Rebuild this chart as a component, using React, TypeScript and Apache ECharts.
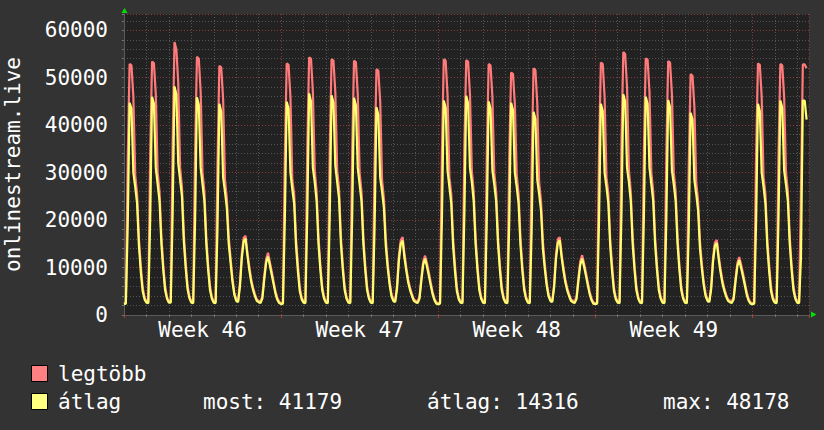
import React, { useEffect, useRef } from "react";
import * as echarts from "echarts";

// Hours between samples; each day row holds 12 two-hourly values (00h..22h)
const STEP_HOURS = 2;
const X_MAX_HOURS = 732.6;
const Y_MAX = 63430;

const weekLabels = ["Week 46", "Week 47", "Week 48", "Week 49"];
const yTickLabels = [0, 10000, 20000, 30000, 40000, 50000, 60000];

// "átlag" (average) per day, Monday first
const avgWeek46 = [
  [2300, 2400, 19000, 44700, 43500, 30000, 27000, 23500, 14500, 9000, 5000, 3300],
  [2600, 2500, 20000, 46000, 44500, 31000, 27500, 24000, 15000, 9500, 5200, 3400],
  [2600, 2600, 21000, 48178, 46500, 32000, 28500, 25000, 15500, 9800, 5400, 3500],
  [2600, 2500, 19500, 45900, 44300, 31000, 27500, 24000, 15000, 9500, 5200, 3400],
  [2600, 2500, 18500, 44500, 42800, 29000, 26000, 22500, 15000, 11000, 7000, 4300],
  [3000, 2700, 6000, 12000, 15500, 16100, 12500, 9500, 7000, 5300, 4000, 3000],
  [2700, 2500, 3500, 7500, 11000, 12300, 10500, 8500, 6500, 4500, 3200, 2500],
];
const avgWeek47 = [
  [2300, 2400, 20000, 44950, 43500, 30000, 26500, 23500, 14500, 9200, 5000, 3300],
  [2600, 2500, 21000, 46700, 45000, 31000, 28000, 24000, 15000, 9500, 5200, 3400],
  [2600, 2500, 20500, 46300, 44800, 31500, 28000, 24500, 15000, 9500, 5200, 3400],
  [2600, 2500, 20000, 45800, 44200, 31000, 27500, 24000, 15000, 9500, 5200, 3400],
  [2600, 2500, 18500, 43800, 42200, 29000, 26000, 22500, 14500, 10000, 6500, 4000],
  [3000, 2700, 5500, 11500, 15000, 15700, 12000, 9200, 6800, 5200, 4000, 3000],
  [2700, 2500, 3400, 7200, 10600, 11900, 10200, 8300, 6300, 4400, 3100, 2400],
];
const avgWeek48 = [
  [2300, 2400, 20000, 45200, 43700, 30500, 27000, 23500, 14500, 9200, 5000, 3300],
  [2600, 2500, 21000, 46200, 44600, 31000, 28000, 24000, 15000, 9500, 5200, 3400],
  [2600, 2500, 20000, 45000, 43500, 30500, 27500, 24000, 15000, 9500, 5200, 3400],
  [2600, 2500, 19500, 44700, 43200, 30000, 27000, 23500, 14800, 9400, 5200, 3400],
  [2600, 2500, 18000, 42800, 41300, 28500, 25500, 22000, 14000, 9800, 6300, 4000],
  [3000, 2700, 5800, 11800, 15200, 15800, 12200, 9300, 6900, 5200, 4000, 3000],
  [2700, 2500, 3400, 7200, 10600, 11900, 10200, 8300, 6300, 4400, 3100, 2400],
];
const avgWeek49 = [
  [2300, 2400, 19500, 44500, 43000, 30000, 27000, 23500, 14500, 9200, 5000, 3300],
  [2600, 2500, 21000, 46500, 45000, 31000, 28000, 24000, 15000, 9500, 5200, 3400],
  [2600, 2500, 20500, 46000, 44500, 31000, 27500, 24000, 15000, 9500, 5200, 3400],
  [2600, 2500, 20000, 45300, 43800, 30500, 27500, 24000, 15000, 9500, 5200, 3400],
  [2600, 2500, 18000, 42600, 41200, 28500, 25500, 22000, 14000, 9800, 6300, 4000],
  [3000, 2700, 5500, 11300, 14600, 15200, 11800, 9000, 6700, 5100, 3900, 3000],
  [2700, 2500, 3300, 7000, 10300, 11600, 9900, 8100, 6200, 4300, 3000, 2400],
];
const avgWeek50 = [
  [2300, 2400, 19500, 44500, 43000, 30000, 27000, 23500, 14500, 9200, 5000, 3300],
  [2600, 2500, 20500, 45200, 43700, 30500, 27500, 24000, 15000, 9500, 5200, 3400],
  [2600, 2500, 12000, 45200, 45200, 41179],
];

// "legtöbb" (maximum) per day, Monday first
const maxWeek46 = [
  [2500, 2700, 33000, 52900, 52600, 46000, 29500, 25500, 16000, 10200, 5800, 3700],
  [2900, 2800, 34000, 53400, 53100, 46500, 30000, 26000, 16500, 10500, 6000, 3800],
  [2900, 2900, 36000, 57500, 56000, 49000, 31000, 27000, 17000, 11000, 6200, 3900],
  [2900, 2800, 34000, 54400, 54000, 47000, 30000, 26000, 16500, 10500, 6000, 3800],
  [2900, 2800, 32000, 52500, 52200, 45500, 28500, 24500, 16500, 12000, 7700, 4700],
  [3300, 3000, 6800, 13000, 16300, 16700, 13200, 10200, 7600, 5800, 4400, 3300],
  [3000, 2800, 4000, 8200, 11800, 13100, 11200, 9200, 7000, 5000, 3600, 2800],
];
const maxWeek47 = [
  [2500, 2600, 33000, 53000, 52700, 46000, 28500, 25500, 16000, 10500, 5800, 3700],
  [2900, 2800, 35000, 54300, 54000, 47000, 30500, 26000, 16500, 10500, 6000, 3800],
  [2900, 2800, 34500, 53900, 53600, 47000, 30500, 26500, 16500, 10500, 6000, 3800],
  [2900, 2800, 34000, 53600, 53300, 46500, 30000, 26000, 16500, 10500, 6000, 3800],
  [2900, 2800, 32000, 51800, 51500, 45000, 28500, 24500, 16000, 11000, 7200, 4500],
  [3300, 3000, 6300, 12500, 15800, 16400, 12800, 9900, 7400, 5700, 4400, 3300],
  [3000, 2800, 3900, 7900, 11300, 12500, 10900, 9000, 6900, 4900, 3500, 2700],
];
const maxWeek48 = [
  [2500, 2600, 34000, 53900, 53600, 46500, 29000, 25500, 16000, 10500, 5800, 3700],
  [2900, 2800, 35000, 53700, 53400, 46500, 30500, 26000, 16500, 10500, 6000, 3800],
  [2900, 2800, 34000, 52900, 52600, 46000, 30000, 26000, 16500, 10500, 6000, 3800],
  [2900, 2800, 33000, 51100, 50800, 44500, 29500, 25500, 16300, 10400, 6000, 3800],
  [2900, 2800, 32000, 52000, 51600, 44500, 28000, 24000, 15500, 10800, 7000, 4500],
  [3300, 3000, 6500, 12800, 16000, 16400, 12900, 10000, 7500, 5700, 4400, 3300],
  [3000, 2800, 3900, 7900, 11400, 12600, 10900, 9000, 6900, 4900, 3500, 2700],
];
const maxWeek49 = [
  [2500, 2600, 33500, 53200, 52900, 46000, 29000, 25500, 16000, 10500, 5800, 3700],
  [2900, 2800, 36000, 55400, 55000, 48000, 30500, 26000, 16500, 10500, 6000, 3800],
  [2900, 2800, 34500, 54100, 53800, 47000, 30000, 26000, 16500, 10500, 6000, 3800],
  [2900, 2800, 34000, 53500, 53200, 46500, 30000, 26000, 16500, 10500, 6000, 3800],
  [2900, 2800, 31500, 50800, 50400, 44000, 28000, 24000, 15500, 10800, 7000, 4500],
  [3300, 3000, 6200, 12200, 15300, 15800, 12500, 9700, 7300, 5600, 4300, 3300],
  [3000, 2800, 3800, 7700, 11000, 12200, 10600, 8800, 6800, 4800, 3400, 2700],
];
const maxWeek50 = [
  [2500, 2600, 33500, 53000, 52700, 46000, 29000, 25500, 16000, 10500, 5800, 3700],
  [2900, 2800, 34000, 52900, 52600, 46000, 30000, 26000, 16500, 10500, 6000, 3800],
  [2900, 2800, 26000, 52800, 52800, 52000],
];

// Legend statistics (for the "átlag" series)
const statLabels = ["most:", "átlag:", "max:"];
const statValues = [41179, 14316, 48178];
const seriesNames = ["legtöbb", "átlag"];

const FONT = "DejaVu Sans Mono";
const TEXT = "#ffffff";
const RED_LINE = "#ff7a7a";
const YEL_LINE = "#ffff6e";

function toPoints(weeks: number[][][]): [number, number][] {
  const flat = weeks.flat(2);
  return flat.map((v, i) => [i * STEP_HOURS, v]);
}

export default function App() {
  const ref = useRef<HTMLDivElement>(null);
  useEffect(() => {
    if (!ref.current) return;
    const chart = echarts.init(ref.current, null, { renderer: "svg" });
    const avgData = toPoints([avgWeek46, avgWeek47, avgWeek48, avgWeek49, avgWeek50]);
    const maxData = toPoints([maxWeek46, maxWeek47, maxWeek48, maxWeek49, maxWeek50]);
    const grid = { left: 124, top: 14, width: 685, height: 301, show: true, backgroundColor: "#222222", borderWidth: 0 };
    const minorGrid = { color: "#545454", type: [1, 2] as number[], width: 1 };
    const majorGrid = { color: "#8a3a3a", type: [1, 2] as number[], width: 1 };
    const option: any = {
      animation: false,
      backgroundColor: "#333333",
      grid,
      xAxis: [
        {
          type: "value", min: 0, max: X_MAX_HOURS, interval: 24, position: "bottom",
          axisLine: { show: true, lineStyle: { color: "#5a5a5a", width: 1 } },
          axisTick: { show: true, length: 2, lineStyle: { color: "#777" } },
          axisLabel: { show: false },
          splitLine: { show: true, lineStyle: minorGrid },
        },
        {
          type: "value", min: 0, max: X_MAX_HOURS, interval: 168, position: "bottom",
          axisLine: { show: false },
          axisTick: { show: true, length: 3, lineStyle: { color: "#b03a3a" } },
          axisLabel: { show: false },
          splitLine: { show: true, lineStyle: majorGrid },
        },
        {
          type: "value", min: 0, max: X_MAX_HOURS, interval: 84, position: "bottom",
          axisLine: { show: false },
          axisTick: { show: false },
          splitLine: { show: false },
          axisLabel: {
            show: true, color: TEXT, fontFamily: FONT, fontSize: 21, margin: 4,
            showMinLabel: true, showMaxLabel: true,
            formatter: (v: number) => {
              const k = (v - 84) / 168;
              return Number.isInteger(k) && k >= 0 && k < weekLabels.length ? weekLabels[k] : "";
            },
          },
        },
      ],
      yAxis: [
        {
          type: "value", min: 0, max: Y_MAX, interval: 2000, position: "left",
          axisLine: { show: true, lineStyle: { color: "#5a5a5a", width: 1 } },
          axisTick: { show: true, length: 2, lineStyle: { color: "#777" } },
          splitLine: { show: true, lineStyle: minorGrid },
          axisLabel: {
            show: true, color: TEXT, fontFamily: FONT, fontSize: 21, margin: 16,
            formatter: (v: number) => (yTickLabels.includes(v) ? String(v) : ""),
          },
        },
        {
          type: "value", min: 0, max: Y_MAX, interval: 10000, position: "left",
          axisLine: { show: false }, axisTick: { show: false }, axisLabel: { show: false },
          splitLine: { show: true, lineStyle: majorGrid },
        },
      ],
      series: [
        {
          type: "line", name: seriesNames[0], data: maxData, xAxisIndex: 0, yAxisIndex: 0,
          symbol: "none", showSymbol: false, z: 3,
          lineStyle: { color: RED_LINE, width: 2.2 },
        },
        {
          type: "line", name: seriesNames[1], data: avgData, xAxisIndex: 0, yAxisIndex: 0,
          symbol: "none", showSymbol: false, z: 4,
          lineStyle: { color: YEL_LINE, width: 2.2 },
        },
      ],
      graphic: [
        { type: "polygon", shape: { points: [[121.5, 13], [127.5, 13], [124.5, 8]] }, style: { fill: "#00e000" }, z: 10 },
        { type: "polygon", shape: { points: [[811, 311.5], [811, 317.5], [816.5, 314.5]] }, style: { fill: "#00e000" }, z: 10 },
        {
          type: "text", x: 13, y: 164.5, rotation: Math.PI / 2,
          style: { text: "onlinestream.live", fill: TEXT, font: `21px '${FONT}'`, align: "center", verticalAlign: "middle" },
        },
        { type: "rect", shape: { x: 31.5, y: 365.5, width: 16, height: 16 }, style: { fill: "#ff8080", stroke: "#000", lineWidth: 1 } },
        { type: "rect", shape: { x: 31.5, y: 393.5, width: 16, height: 16 }, style: { fill: "#ffff80", stroke: "#000", lineWidth: 1 } },
        { type: "text", x: 58, y: 374, style: { text: seriesNames[0], fill: TEXT, font: `21px '${FONT}'`, verticalAlign: "middle" } },
        { type: "text", x: 58, y: 402, style: { text: seriesNames[1], fill: TEXT, font: `21px '${FONT}'`, verticalAlign: "middle" } },
        { type: "text", x: 203, y: 402, style: { text: `${statLabels[0]} ${statValues[0]}`, fill: TEXT, font: `21px '${FONT}'`, verticalAlign: "middle" } },
        { type: "text", x: 427, y: 402, style: { text: `${statLabels[1]} ${statValues[1]}`, fill: TEXT, font: `21px '${FONT}'`, verticalAlign: "middle" } },
        { type: "text", x: 663, y: 402, style: { text: `${statLabels[2]} ${statValues[2]}`, fill: TEXT, font: `21px '${FONT}'`, verticalAlign: "middle" } },
      ],
    };
    chart.setOption(option);
    return () => chart.dispose();
  }, []);
  return <div ref={ref} style={{ position: "fixed", left: 0, top: 0, width: 824, height: 430 }} />;
}
